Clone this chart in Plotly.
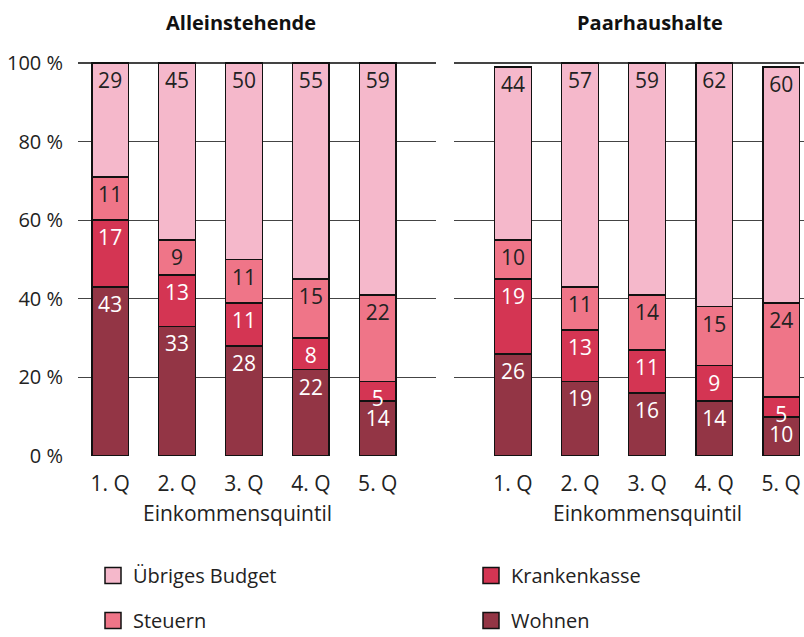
import plotly.graph_objects as go

categories = ["1. Q", "2. Q", "3. Q", "4. Q", "5. Q"]
series_names = ["Wohnen", "Krankenkasse", "Steuern", "Übriges Budget"]

allein_wohnen = [43, 33, 28, 22, 14]
allein_kk = [17, 13, 11, 8, 5]
allein_steuern = [11, 9, 11, 15, 22]
allein_uebrig = [29, 45, 50, 55, 59]

paar_wohnen = [26, 19, 16, 14, 10]
paar_kk = [19, 13, 11, 9, 5]
paar_steuern = [10, 11, 14, 15, 24]
paar_uebrig = [44, 57, 59, 62, 60]

y_ticks = [0, 20, 40, 60, 80, 100]
y_tick_labels = ["0 %", "20 %", "40 %", "60 %", "80 %", "100 %"]

colors = {"Wohnen": "#933545", "Krankenkasse": "#d43553",
          "Steuern": "#ef7588", "Übriges Budget": "#f5b8cb"}
text_colors = {"Wohnen": "white", "Krankenkasse": "white",
               "Steuern": "#222222", "Übriges Budget": "#222222"}
legend_of = {"Wohnen": "legend2", "Krankenkasse": "legend2",
             "Steuern": "legend", "Übriges Budget": "legend"}
legend_rank = {"Übriges Budget": 1, "Steuern": 2, "Krankenkasse": 1, "Wohnen": 2}

FONT = "Open Sans"
W, H = 804, 637

fig = go.Figure()

panels = [
    ("x", "y", [allein_wohnen, allein_kk, allein_steuern, allein_uebrig]),
    ("x2", "y2", [paar_wohnen, paar_kk, paar_steuern, paar_uebrig]),
]
for xa, ya, vals in panels:
    for name, v in zip(series_names, vals):
        fig.add_trace(go.Bar(
            x=categories, y=v, name=name, xaxis=xa, yaxis=ya,
            marker=dict(color=colors[name], line=dict(color="#111111", width=1.6)),
            width=0.55,
            text=[str(t) for t in v], textposition="inside",
            insidetextanchor="end", textangle=0, constraintext="none",
            textfont=dict(family=FONT, size=21, color=text_colors[name]),
            showlegend=False, hoverinfo="skip",
        ))

# legend entries (larger square swatches)
for name in series_names:
    fig.add_trace(go.Scatter(
        x=[None], y=[None], mode="markers", name=name,
        marker=dict(symbol="square", size=20, color=colors[name],
                    line=dict(color="#111111", width=1.5)),
        legend=legend_of[name], legendgroup=name, legendrank=legend_rank[name],
        showlegend=True, hoverinfo="skip",
    ))

def px_x(p):
    return p / W

def px_y(p):
    return (H - p) / H

ytop = 100.6
y0_px, y100_px = 456, 63
scale = (y0_px - y100_px) / 100.0
top_px = y0_px - ytop * scale

common_y = dict(range=[0, ytop], tickvals=y_ticks, ticktext=y_tick_labels,
                showgrid=True, gridcolor="#444444", gridwidth=1.3, zeroline=False,
                domain=[px_y(y0_px), px_y(top_px)], fixedrange=True,
                automargin=False)

xcommon = dict(showgrid=False, zeroline=False, ticks="outside", ticklen=9,
               tickcolor="rgba(0,0,0,0)", tickfont=dict(size=21, color="#222222"),
               fixedrange=True, automargin=False)

fig.update_layout(
    width=W, height=H,
    margin=dict(l=0, r=0, t=0, b=0, autoexpand=False),
    paper_bgcolor="white", plot_bgcolor="white",
    barmode="stack",
    font=dict(family=FONT, size=21, color="#222222"),
    xaxis=dict(domain=[px_x(78), px_x(436)], range=[-0.48, 4.87], **xcommon),
    xaxis2=dict(domain=[px_x(454), 1.0], range=[-0.88, 4.34], anchor="y2", **xcommon),
    yaxis=dict(**common_y, ticks="outside", ticklen=10,
               tickcolor="rgba(0,0,0,0)", tickfont=dict(size=20, color="#222222")),
    yaxis2=dict(**common_y, showticklabels=False, anchor="x2"),
    legend=dict(x=px_x(93), y=px_y(556), xanchor="left", yanchor="top",
                orientation="v", traceorder="grouped", tracegroupgap=16,
                font=dict(size=20, color="#222222"), bgcolor="rgba(0,0,0,0)"),
    legend2=dict(x=px_x(471), y=px_y(556), xanchor="left", yanchor="top",
                 orientation="v", traceorder="grouped", tracegroupgap=16,
                 font=dict(size=20, color="#222222"), bgcolor="rgba(0,0,0,0)"),
    showlegend=True,
)

fig.add_annotation(text="<b>Alleinstehende</b>", xref="x", yref="paper",
                   x=1.95, y=px_y(22), showarrow=False, yanchor="middle",
                   font=dict(size=20, color="#111111", family=FONT))
fig.add_annotation(text="<b>Paarhaushalte</b>", xref="x2", yref="paper",
                   x=2.05, y=px_y(22), showarrow=False, yanchor="middle",
                   font=dict(size=20, color="#111111", family=FONT))
fig.add_annotation(text="Einkommensquintil", xref="x", yref="paper",
                   x=1.9, y=px_y(513), showarrow=False, yanchor="middle",
                   font=dict(size=21, color="#222222", family=FONT))
fig.add_annotation(text="Einkommensquintil", xref="x2", yref="paper",
                   x=2.0, y=px_y(513), showarrow=False, yanchor="middle",
                   font=dict(size=21, color="#222222", family=FONT))

fig.write_html(
    "out.html",
    config={"displayModeBar": False, "staticPlot": True},
    post_script="document.body.style.margin='0';document.body.style.overflow='hidden';",
)
